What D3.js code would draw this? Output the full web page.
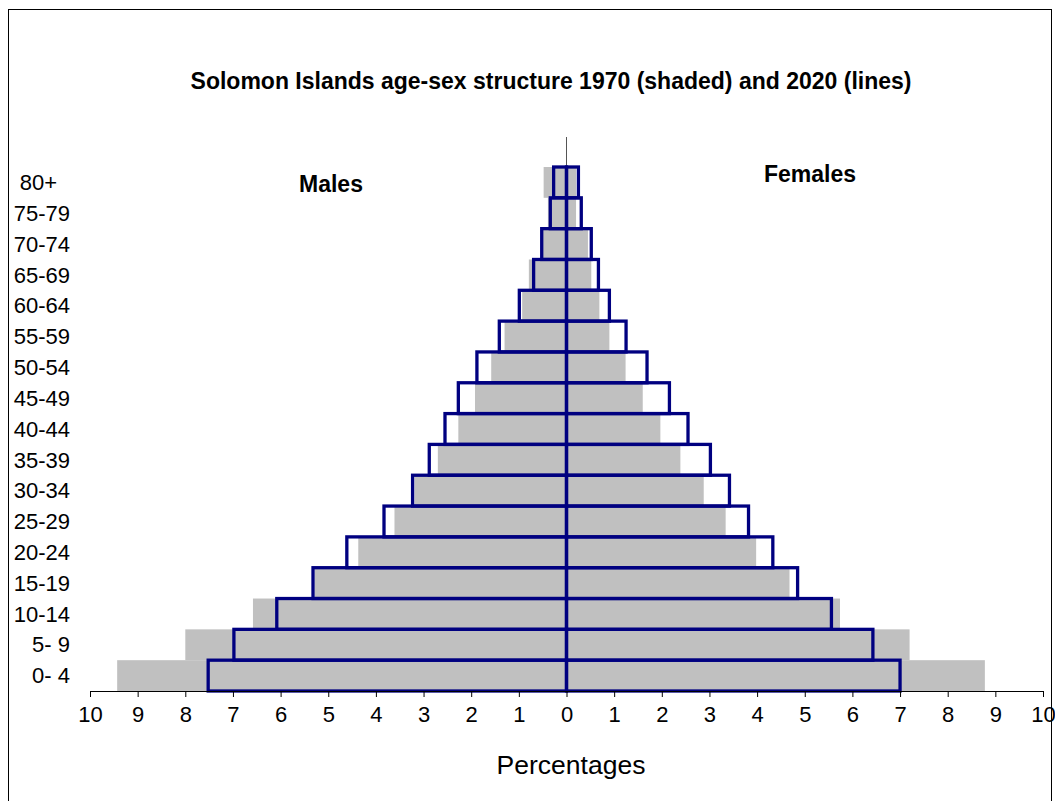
<!DOCTYPE html>
<html lang="en">
  <head>
    <meta charset="UTF-8" />
    <title>Solomon Islands age-sex structure</title>
    <script src="https://d3js.org/d3.v7.min.js"></script>
    <style>
      body {
        margin: 0;
        background: #fff;
        font-family: Arial, "Liberation Sans", sans-serif;
      }
      svg text {
        fill: #000;
      }
    </style>
  </head>
  <body>
    <div id="chart"></div>
    <script>
      // age groups, bottom to top
      const ageGroups = ["0- 4", "5- 9", "10-14", "15-19", "20-24", "25-29", "30-34", "35-39",
        "40-44", "45-49", "50-54", "55-59", "60-64", "65-69", "70-74", "75-79", "80+"];

      // percentages
      const males1970 = [9.43, 8.0, 6.58, 5.29, 4.37, 3.61, 3.19, 2.70, 2.27, 1.92, 1.58, 1.30, 0.93, 0.79, 0.53, 0.39, 0.48];
      const females1970 = [8.78, 7.20, 5.74, 4.68, 3.98, 3.34, 2.88, 2.39, 1.97, 1.60, 1.24, 0.90, 0.69, 0.52, 0.45, 0.20, 0.20];
      const males2020 = [7.52, 6.98, 6.08, 5.32, 4.61, 3.83, 3.23, 2.88, 2.55, 2.27, 1.88, 1.41, 0.99, 0.69, 0.52, 0.34, 0.27];
      const females2020 = [7.00, 6.43, 5.56, 4.85, 4.33, 3.82, 3.42, 3.02, 2.55, 2.16, 1.69, 1.25, 0.90, 0.67, 0.52, 0.31, 0.25];

      const xTicks = d3.range(-10, 11, 1);

      const width = 1055;
      const height = 801;

      const svg = d3
        .select("#chart")
        .append("svg")
        .attr("width", width)
        .attr("height", height);

      // outer frame
      svg
        .append("rect")
        .attr("x", 8.5)
        .attr("y", 9.5)
        .attr("width", 1043)
        .attr("height", 820)
        .attr("fill", "none")
        .attr("stroke", "#000")
        .attr("stroke-width", 1);

      const x = d3.scaleLinear().domain([-10, 10]).range([90, 1043]);
      const y = d3.scaleBand().domain(ageGroups).range([691, 167]).padding(0);

      const rows = ageGroups.map((g, i) => ({
        age: g,
        m70: males1970[i],
        f70: females1970[i],
        m20: males2020[i],
        f20: females2020[i],
      }));

      // 1970 shaded bars
      const shaded = svg.append("g").attr("fill", "#c0c0c0");
      shaded
        .selectAll(".m70")
        .data(rows)
        .join("rect")
        .attr("x", (d) => x(-d.m70))
        .attr("y", (d) => y(d.age))
        .attr("width", (d) => x(0) - x(-d.m70))
        .attr("height", y.bandwidth());
      shaded
        .selectAll(".f70")
        .data(rows)
        .join("rect")
        .attr("x", x(0))
        .attr("y", (d) => y(d.age))
        .attr("width", (d) => x(d.f70) - x(0))
        .attr("height", y.bandwidth());

      // thin centre line above bars
      svg
        .append("line")
        .attr("x1", x(0))
        .attr("x2", x(0))
        .attr("y1", 137)
        .attr("y2", 691)
        .attr("stroke", "#555")
        .attr("stroke-width", 1);

      // 2020 outlined bars
      const lines = svg
        .append("g")
        .attr("fill", "none")
        .attr("stroke", "#000080")
        .attr("stroke-width", 3.3);
      lines
        .selectAll(".m20")
        .data(rows)
        .join("rect")
        .attr("x", (d) => x(-d.m20))
        .attr("y", (d) => y(d.age))
        .attr("width", (d) => x(0) - x(-d.m20))
        .attr("height", y.bandwidth());
      lines
        .selectAll(".f20")
        .data(rows)
        .join("rect")
        .attr("x", x(0))
        .attr("y", (d) => y(d.age))
        .attr("width", (d) => x(d.f20) - x(0))
        .attr("height", y.bandwidth());

      // x axis
      const xAxis = svg
        .append("g")
        .attr("transform", "translate(0,691)")
        .call(
          d3
            .axisBottom(x)
            .tickValues(xTicks)
            .tickSize(6)
            .tickSizeOuter(0)
            .tickPadding(9)
            .tickFormat((d) => Math.abs(d))
        );
      xAxis.select(".domain").attr("stroke", "#000");
      xAxis.selectAll(".tick line").attr("stroke", "#000");
      xAxis
        .selectAll(".tick text")
        .attr("font-family", "Arial, 'Liberation Sans', sans-serif")
        .attr("font-size", 22)
        .attr("fill", "#000");

      // age labels
      svg
        .append("g")
        .selectAll("text")
        .data(ageGroups)
        .join("text")
        .attr("x", (d) => (d === "80+" ? 57 : 70))
        .attr("y", (d) => y(d) + y.bandwidth() / 2)
        .attr("dy", "0.35em")
        .attr("text-anchor", "end")
        .attr("font-size", 22)
        .text((d) => d);

      // titles
      svg
        .append("text")
        .attr("x", 551)
        .attr("y", 81)
        .attr("dy", "0.35em")
        .attr("text-anchor", "middle")
        .attr("font-weight", "bold")
        .attr("font-size", 23)
        .text("Solomon Islands age-sex structure 1970 (shaded) and 2020 (lines)");

      svg
        .append("text")
        .attr("x", 331)
        .attr("y", 184)
        .attr("dy", "0.35em")
        .attr("text-anchor", "middle")
        .attr("font-weight", "bold")
        .attr("font-size", 23)
        .text("Males");

      svg
        .append("text")
        .attr("x", 810)
        .attr("y", 174)
        .attr("dy", "0.35em")
        .attr("text-anchor", "middle")
        .attr("font-weight", "bold")
        .attr("font-size", 23)
        .text("Females");

      svg
        .append("text")
        .attr("x", 571)
        .attr("y", 765)
        .attr("dy", "0.35em")
        .attr("text-anchor", "middle")
        .attr("font-size", 26.5)
        .text("Percentages");
    </script>
  </body>
</html>
